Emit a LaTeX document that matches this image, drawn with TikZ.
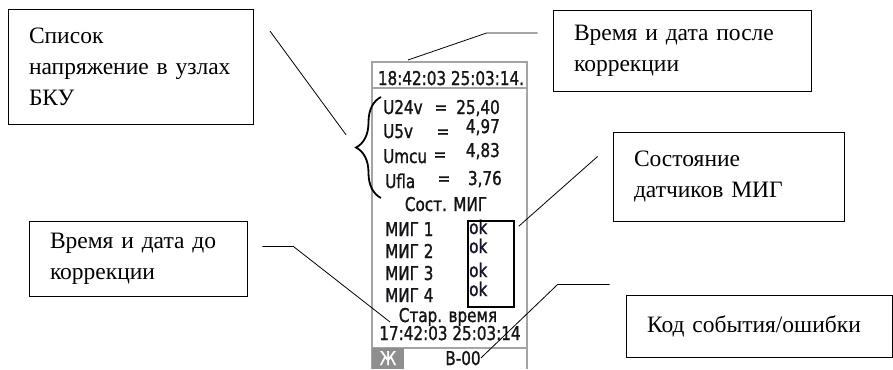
\documentclass[tikz,border=0pt]{standalone}
\usepackage{fontspec}
\setmainfont{Liberation Serif}
\newfontfamily\panelfont[FakeStretch=0.8,FakeBold=1.2]{DejaVu Sans}
\usepackage{tikz}
\usetikzlibrary{positioning,calc,decorations.pathreplacing}
\definecolor{frame}{HTML}{A4A4A4}
\definecolor{ink}{HTML}{141418}
\definecolor{okink}{HTML}{14142A}
\definecolor{zhbox}{HTML}{8E8E8E}
\tikzset{
  note/.style={draw=black, line width=0.9pt, align=left, inner xsep=21pt, inner ysep=0pt,
    font=\fontsize{23.5}{31}\selectfont},
  lead/.style={draw=black, line width=0.8pt},
  scr/.style={inner sep=0pt, text=ink, font=\panelfont\fontsize{19}{21}\selectfont},
}

\begin{document}
\begin{tikzpicture}[x=1pt,y=-1pt]
            \useasboundingbox (0,0) rectangle (893,369);
            % Callout boxes
            \node[note, text width=203pt, minimum height=115pt] (spisok) at (130.5,66.5) {Список\\\mbox{напряжение в узлах}\\БКУ};
            \node[note, text width=176pt, minimum height=75pt] (dokorr) at (138,258.5) {\mbox{Время и дата до}\\коррекции};
            \node[note, text width=216pt, minimum height=81pt] (posle) at (682,50.5) {\mbox{Время и дата после}\\коррекции};
            \node[note, text width=189pt, minimum height=89pt] (sostD) at (728.5,176.5) {Состояние\\\mbox{датчиков МИГ}};
            \node[note, text width=224pt, minimum height=62pt] (kod) at (759,326) {\mbox{Код события/ошибки}};
            % Screen frame
            \draw[frame, line width=1.8pt] (372,369) -- (372,62) -- (527,62) -- (527,369);
            \draw[frame, line width=1.4pt] (372,88) -- (527,88);
            \draw[frame, line width=1.4pt] (372,348) -- (527,348);
            \fill[zhbox] (372,348) rectangle (404,369);
            % Row 0: time after correction
            \node[scr, anchor=base] (head) at (451,85) {18:42:03 25:03:14.};
            % Rows 1-4: voltages
            \node[scr, anchor=base west] (u24) at (383,114) {U24v};
            \node[scr, anchor=base] (eq24) at (441,114) {=};
            \node[scr, anchor=base east] (v24) at (500,114) {25,40};
            \node[scr, anchor=base west] (u5) at (383,138) {U5v};
            \node[scr, anchor=base] (eq5) at (443,138) {=};
            \node[scr, anchor=base east] (v5) at (500,133) {4,97};
            \node[scr, anchor=base west] (umcu) at (383,163) {Umcu};
            \node[scr, anchor=base] (eqmcu) at (440,161) {=};
            \node[scr, anchor=base east] (vmcu) at (500,157) {4,83};
            \node[scr, anchor=base west] (ufla) at (385,188) {Ufla};
            \node[scr, anchor=base] (eqfla) at (444,185) {=};
            \node[scr, anchor=base east] (vfla) at (502,185) {3,76};
            % Brace over the voltage rows
            \coordinate (braceTip) at (355,147);
            \draw[decorate, decoration={brace, amplitude=25pt}, line width=1.8pt] (381,198) -- (381,97);
            % Rows 5-9: MIG sensors
            \node[scr, anchor=base] (sost) at (446,211) {Сост. МИГ};
            \node[scr, anchor=base west] (mig1) at (385,236) {МИГ 1};
            \node[scr, anchor=base west] (mig2) at (385,258) {МИГ 2};
            \node[scr, anchor=base west] (mig3) at (385,280) {МИГ 3};
            \node[scr, anchor=base west] (mig4) at (385,302) {МИГ 4};
            \node[scr, text=okink, anchor=base west] (ok1) at (469,234) {ok};
            \node[scr, text=okink, anchor=base west] (ok2) at (469,253) {ok};
            \node[scr, text=okink, anchor=base west] (ok3) at (469,277) {ok};
            \node[scr, text=okink, anchor=base west] (ok4) at (469,296) {ok};
            \node[draw, line width=1.6pt, minimum width=46pt, minimum height=86pt, inner sep=0pt] (okbox) at (491,264) {};
            % Rows 10-12: time before correction, status line
            \node[scr, anchor=base] (star) at (448,322) {Стар. время};
            \node[scr, anchor=base] (oldtime) at (450,340) {17:42:03 25:03:14};
            \node[scr, text=white, anchor=base] (zh) at (388,365) {Ж};
            \node[scr, anchor=base] (b00) at (463,365) {B-00};
            % Leaders
            \coordinate (oldEnd) at (390,322);
            \coordinate (newEnd) at (408,60);
            \draw[lead, shorten <=28pt, shorten >=15pt] (spisok.north east) -- (braceTip);
            \draw[lead] ([xshift=15pt,yshift=12pt]dokorr.east) -- ++(31,0) -- (oldEnd);
            \draw[lead] ([xshift=-15pt,yshift=17.5pt]posle.west) -- ++(-51,0) -- (newEnd);
            \draw[lead] ([xshift=-15pt,yshift=20pt]sostD.west) -- ([xshift=4pt,yshift=-6pt]okbox.north east);
            \draw[lead] ([xshift=-16pt,yshift=10pt]kod.north west) -- ++(-52,0) -- (b00.east);
        \end{tikzpicture}
\end{document}
